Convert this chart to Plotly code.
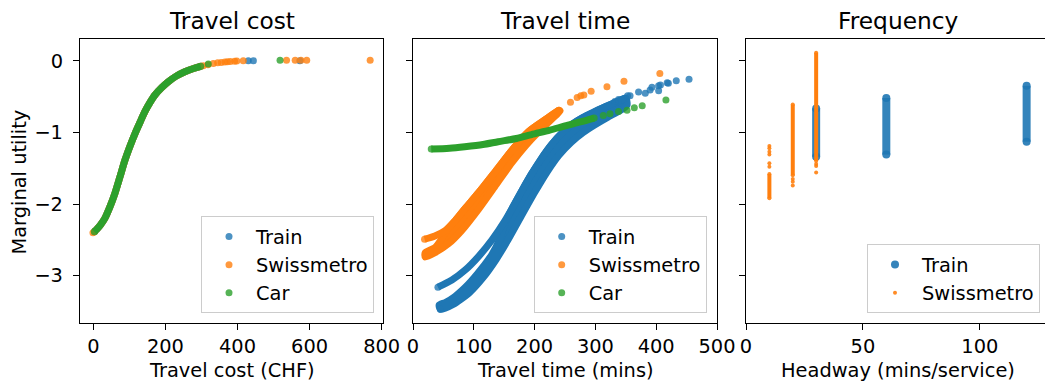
import plotly.graph_objects as go

BLUE = "#1f77b4"
ORANGE = "#ff7f0e"
GREEN = "#2ca02c"

# ---------------- Panel 1: Travel cost ----------------
cost_curve_x = [3, 10, 20, 32, 46, 60, 74, 88, 102, 116, 130, 143, 157, 171, 190, 208, 230, 254, 278, 298]
cost_curve_y = [-2.385, -2.35, -2.29, -2.20, -2.04, -1.85, -1.62, -1.385, -1.19, -1.013, -0.855, -0.711,
                -0.585, -0.478, -0.375, -0.293, -0.215, -0.153, -0.108, -0.078]
cost_train_dots_x = [430, 444, 573]
cost_train_dots_y = [0.0, 0.0, 0.0]
cost_swiss_dots_x = [-1, 305, 318, 333, 345, 355, 365, 372, 380, 392, 398, 416, 536, 560, 576, 592, 768]
cost_swiss_dots_y = [-2.40, -0.07, -0.055, -0.04, -0.03, -0.024, -0.018, -0.015, -0.012, -0.008, -0.005,
                     0.0, 0.005, 0.005, 0.005, 0.005, 0.005]
cost_car_dots_x = [319, 518]
cost_car_dots_y = [-0.046, 0.005]

# ---------------- Panel 2: Travel time ----------------
# upper (thin) branch of the Train band, continuing as the band's upper edge
time_train_branch_x = [41, 64, 86, 108, 130, 150, 165, 180, 195, 210, 228, 245, 262, 280, 298, 318, 335, 350]
time_train_branch_y = [-3.16, -3.06, -2.92, -2.73, -2.50, -2.25, -2.03, -1.80, -1.58, -1.38, -1.17, -1.01,
                       -0.885, -0.79, -0.715, -0.635, -0.575, -0.52]
# top edge of the lower (thick) branch, up to where both branches meet
time_train_inner_x = [43, 53, 69, 91, 113, 130, 142, 150]
time_train_inner_y = [-3.41, -3.375, -3.29, -3.12, -2.90, -2.70, -2.50, -2.30]
time_train_lower_x = [45, 66, 93, 115, 137, 159, 180, 200, 220, 240, 260, 280, 300, 320, 340, 352]
time_train_lower_y = [-3.47, -3.40, -3.235, -3.03, -2.77, -2.46, -2.14, -1.84, -1.56, -1.32, -1.14, -1.00,
                      -0.89, -0.79, -0.70, -0.62]
time_train_dots_x = [332, 338, 343, 353, 357, 371, 382, 390, 393, 404, 404, 407, 418, 420, 433, 454]
time_train_dots_y = [-0.57, -0.54, -0.55, -0.49, -0.49, -0.437, -0.455, -0.409, -0.371, -0.35, -0.418,
                     -0.339, -0.307, -0.316, -0.279, -0.26]

time_swiss_branch_x = [19, 36, 53, 69, 86, 108, 135, 163, 190, 218, 240]
time_swiss_branch_y = [-2.49, -2.445, -2.37, -2.235, -2.06, -1.84, -1.55, -1.245, -0.99, -0.82, -0.69]
time_swiss_inner_x = [20, 36, 46, 53]
time_swiss_inner_y = [-2.68, -2.61, -2.50, -2.40]
time_swiss_lower_x = [20, 36, 58, 80, 108, 135, 163, 185, 207, 229, 242]
time_swiss_lower_y = [-2.74, -2.68, -2.556, -2.37, -2.07, -1.75, -1.42, -1.19, -0.99, -0.81, -0.70]
time_swiss_dots_x = [259, 270, 276, 281, 293, 319, 347, 406]
time_swiss_dots_y = [-0.58, -0.513, -0.49, -0.478, -0.425, -0.363, -0.285, -0.178]

time_car_x = [30, 60, 85, 115, 140, 170, 195, 225, 250, 275, 298]
time_car_y = [-1.232, -1.22, -1.20, -1.17, -1.13, -1.085, -1.03, -0.97, -0.91, -0.855, -0.80]
time_car_dots_x = [313, 324, 338, 352, 364, 377, 416]
time_car_dots_y = [-0.765, -0.74, -0.71, -0.69, -0.655, -0.63, -0.548]

# ---------------- Panel 3: Frequency ----------------
freq_train_headway = [30, 60, 120]
freq_train_low = [-1.34, -1.31, -1.13]
freq_train_high = [-0.665, -0.52, -0.35]

freq_swiss_headway = [10, 20, 30]
freq_swiss_low = [-1.92, -1.60, -1.40]
freq_swiss_high = [-1.58, -0.61, 0.11]
freq_swiss_dots_x = [10, 10, 10, 10, 10, 10, 20, 20, 20, 30, 30, 30]
freq_swiss_dots_y = [-1.19, -1.22, -1.27, -1.31, -1.43, -1.48, -1.65, -1.69, -1.74, -1.44, -1.47, -1.56]

panel_titles = ["Travel cost", "Travel time", "Frequency"]
x_titles = ["Travel cost (CHF)", "Travel time (mins)", "Headway (mins/service)"]
y_title = "Marginal utility"

FONT = "DejaVu Sans"
FS = 19.4
FS_TITLE = 23.3
W, H = 1045, 385

fig = go.Figure()


def line_trace(xs, ys, color, xa, ya, width=7):
    return go.Scatter(x=xs, y=ys, mode="lines", line=dict(color=color, width=width, shape="spline", smoothing=0.8),
                      showlegend=False, hoverinfo="skip", xaxis=xa, yaxis=ya)


def band_trace(inner_x, inner_y, upper_x, upper_y, lower_x, lower_y, color, xa, ya):
    ux = list(inner_x) + [v for v in upper_x if v > inner_x[-1]]
    uy = list(inner_y) + [w for v, w in zip(upper_x, upper_y) if v > inner_x[-1]]
    xs = ux + list(reversed(lower_x)) + [ux[0]]
    ys = uy + list(reversed(lower_y)) + [uy[0]]
    return go.Scatter(x=xs, y=ys, mode="lines", fill="toself", fillcolor=color,
                      line=dict(color=color, width=7, shape="spline", smoothing=0.6),
                      showlegend=False, hoverinfo="skip", xaxis=xa, yaxis=ya)


def dots_trace(xs, ys, color, name, xa, ya, legend, size=7, opacity=0.8):
    return go.Scatter(x=xs, y=ys, mode="markers", name=name,
                      marker=dict(color=color, size=size, opacity=opacity, line=dict(width=0)),
                      legend=legend, legendgroup=legend + name, showlegend=True,
                      xaxis=xa, yaxis=ya)


# Panel 1
for name, color, dx, dy in [("Train", BLUE, cost_train_dots_x, cost_train_dots_y),
                            ("Swissmetro", ORANGE, cost_swiss_dots_x, cost_swiss_dots_y),
                            ("Car", GREEN, cost_car_dots_x, cost_car_dots_y)]:
    fig.add_trace(line_trace(cost_curve_x, cost_curve_y, color, "x", "y"))
    ex = [cost_curve_x[0], cost_curve_x[-1]]
    ey = [cost_curve_y[0], cost_curve_y[-1]]
    fig.add_trace(dots_trace(ex + dx, ey + dy, color, name, "x", "y", "legend"))

# Panel 2
fig.add_trace(band_trace(time_train_inner_x, time_train_inner_y, time_train_branch_x, time_train_branch_y,
                         time_train_lower_x, time_train_lower_y, BLUE, "x2", "y2"))
fig.add_trace(line_trace(time_train_branch_x, time_train_branch_y, BLUE, "x2", "y2"))
fig.add_trace(dots_trace([time_train_branch_x[0], time_train_lower_x[0]] + time_train_dots_x,
                         [time_train_branch_y[0], time_train_lower_y[0]] + time_train_dots_y,
                         BLUE, "Train", "x2", "y2", "legend2"))
fig.add_trace(band_trace(time_swiss_inner_x, time_swiss_inner_y, time_swiss_branch_x, time_swiss_branch_y,
                         time_swiss_lower_x, time_swiss_lower_y, ORANGE, "x2", "y2"))
fig.add_trace(line_trace(time_swiss_branch_x, time_swiss_branch_y, ORANGE, "x2", "y2"))
fig.add_trace(dots_trace([time_swiss_branch_x[0], time_swiss_branch_x[-1]] + time_swiss_dots_x,
                         [time_swiss_branch_y[0], time_swiss_branch_y[-1]] + time_swiss_dots_y,
                         ORANGE, "Swissmetro", "x2", "y2", "legend2"))
fig.add_trace(line_trace(time_car_x, time_car_y, GREEN, "x2", "y2"))
fig.add_trace(dots_trace([time_car_x[0], time_car_x[-1]] + time_car_dots_x,
                         [time_car_y[0], time_car_y[-1]] + time_car_dots_y, GREEN, "Car", "x2", "y2", "legend2"))


# Panel 3
def segments(hx, lo, hi):
    xs, ys = [], []
    for h, a, b in zip(hx, lo, hi):
        xs += [h, h, None]
        ys += [a, b, None]
    return xs, ys


sx, sy = segments(freq_train_headway, freq_train_low, freq_train_high)
fig.add_trace(go.Scatter(x=sx, y=sy, mode="lines", line=dict(color=BLUE, width=8), opacity=0.9,
                         showlegend=False, hoverinfo="skip", xaxis="x3", yaxis="y3"))
fig.add_trace(dots_trace(freq_train_headway * 2, freq_train_low + freq_train_high, BLUE, "Train",
                         "x3", "y3", "legend3", size=8, opacity=0.9))
sx, sy = segments(freq_swiss_headway, freq_swiss_low, freq_swiss_high)
fig.add_trace(go.Scatter(x=sx, y=sy, mode="lines", line=dict(color=ORANGE, width=4),
                         showlegend=False, hoverinfo="skip", xaxis="x3", yaxis="y3"))
fig.add_trace(dots_trace(freq_swiss_headway * 2 + freq_swiss_dots_x,
                         freq_swiss_low + freq_swiss_high + freq_swiss_dots_y, ORANGE, "Swissmetro",
                         "x3", "y3", "legend3", size=4, opacity=0.9))

# ---------------- Layout ----------------
doms = [(80 / W, 383 / W), (413 / W, 717 / W), (746 / W, 1.0)]
xranges = [[-36.9, 803.6], [0, 500], [0, 127.86]]
xticks = [[0, 200, 400, 600, 800], [0, 100, 200, 300, 400, 500], [0, 50, 100]]
ydom = (1 - 322.7 / H, 1 - 39.3 / H)
yrange = [-3.656, 0.299]

axis_common = dict(showline=True, linecolor="black", linewidth=1.3, ticks="outside", ticklen=6,
                   tickwidth=1.2, tickcolor="black", showgrid=False, zeroline=False, automargin=False,
                   tickfont=dict(family=FONT, size=FS, color="black"))

layout = dict(width=W, height=H, margin=dict(l=0, r=0, t=0, b=0, pad=0, autoexpand=False),
              paper_bgcolor="white", plot_bgcolor="white",
              font=dict(family=FONT, size=FS, color="black"), hovermode=False)
for i in range(3):
    s = "" if i == 0 else str(i + 1)
    layout["xaxis" + s] = dict(axis_common, domain=list(doms[i]), range=xranges[i], tickvals=xticks[i],
                               mirror=True, anchor="y" + s, ticklabelstandoff=0)
    layout["yaxis" + s] = dict(axis_common, domain=list(ydom), range=yrange, tickvals=[-3, -2, -1, 0],
                               mirror=(i < 2), anchor="x" + s, showticklabels=(i == 0),
                               ticklabelstandoff=6)

legend_right = [374, 706.7, 1040]
for i in range(3):
    s = "" if i == 0 else str(i + 1)
    layout["legend" + s] = dict(x=legend_right[i] / W, y=1 - 313.3 / H, xanchor="right", yanchor="bottom",
                                bgcolor="rgba(255,255,255,0.8)", bordercolor="#cccccc", borderwidth=1,
                                font=dict(family=FONT, size=FS, color="black"), itemwidth=44,
                                traceorder="grouped", tracegroupgap=0)

annotations = []
centers = [(80 + 383) / 2, (413 + 717) / 2, (746 + 1050) / 2]
for i in range(3):
    annotations.append(dict(text=panel_titles[i], x=centers[i] / W, y=1 - 20.1 / H, xref="paper", yref="paper",
                            xanchor="center", yanchor="middle", showarrow=False,
                            font=dict(family=FONT, size=FS_TITLE, color="black")))
    annotations.append(dict(text=x_titles[i], x=centers[i] / W, y=1 - 370.5 / H, xref="paper", yref="paper",
                            xanchor="center", yanchor="middle", showarrow=False,
                            font=dict(family=FONT, size=FS, color="black")))
annotations.append(dict(text=y_title, x=19.8 / W, y=1 - 181.7 / H, xref="paper", yref="paper",
                        xanchor="center", yanchor="middle", textangle=-90, showarrow=False,
                        font=dict(family=FONT, size=FS, color="black")))
layout["annotations"] = annotations

fig.update_layout(**layout)
fig.write_html("out.html")
